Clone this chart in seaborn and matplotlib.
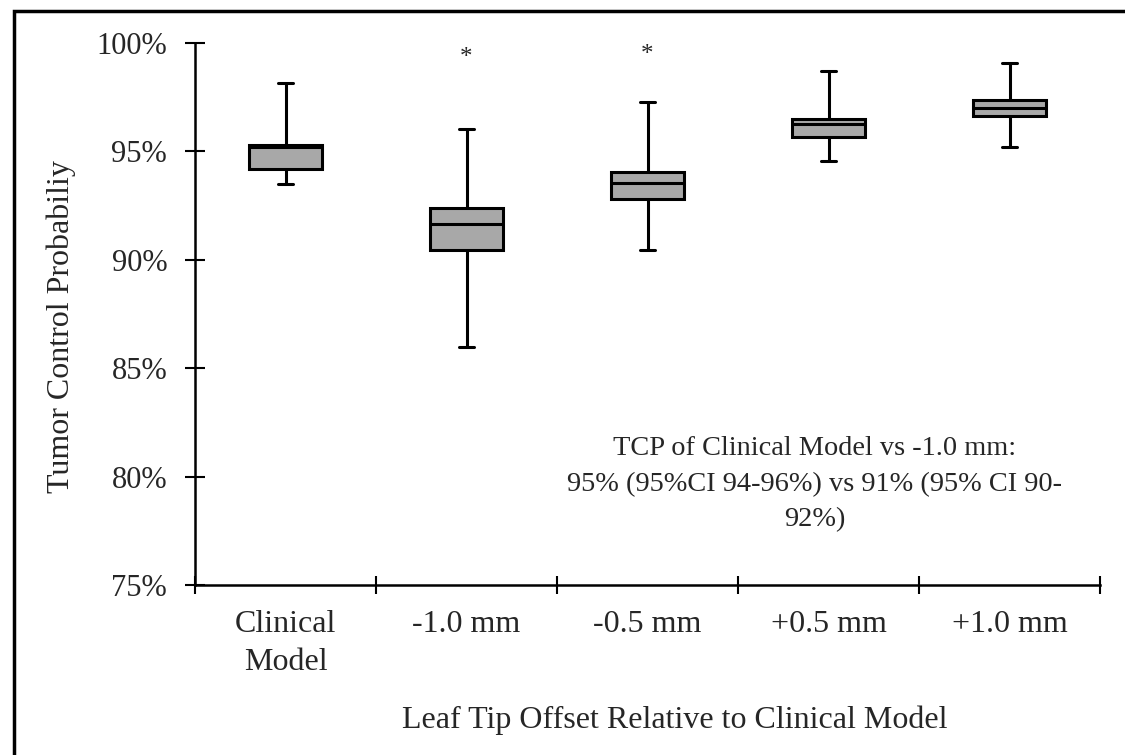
import numpy as np
import pandas as pd
from matplotlib import use
use('agg')
import matplotlib.pyplot as plt
from matplotlib.patches import Rectangle
from matplotlib.ticker import FixedLocator, PercentFormatter
import seaborn as sns

# five-number summaries: min, q1, median, q3, max (%)
groups = ["Clinical\nModel", "-1.0 mm", "-0.5 mm", "+0.5 mm", "+1.0 mm"]
tcp_min = [93.5, 86.0, 90.45, 94.57, 95.2]
tcp_q1 = [94.2, 90.45, 92.8, 95.68, 96.65]
tcp_med = [95.2, 91.65, 93.53, 96.26, 96.99]
tcp_q3 = [95.3, 92.37, 94.04, 96.48, 97.37]
tcp_max = [98.14, 96.03, 97.29, 98.71, 99.09]
star_groups = ["-1.0 mm", "-0.5 mm"]
star_y = [99.3, 99.45]

rows = []
for i, g in enumerate(groups):
	for v in (tcp_min[i], tcp_q1[i], tcp_med[i], tcp_q3[i], tcp_max[i]):
		rows.append({"group": g, "tcp": v})
df = pd.DataFrame(rows)

sns.set_style("white")
plt.rcParams['font.family'] = ['Liberation Serif', 'DejaVu Serif']

fig = plt.figure(figsize=(11.25, 7.55), dpi=100)
ax = fig.add_axes([195/1125, 1-585/755, 905/1125, 542/755])

lw = 2.2
sns.boxplot(data=df, x="group", y="tcp", order=groups, whis=(0, 100), width=0.4,
	color="#a8a8a8", saturation=1, linecolor="black", linewidth=lw,
	showcaps=True, capwidths=0.08, showfliers=False, ax=ax)

for g, y in zip(star_groups, star_y):
	ax.text(groups.index(g), y, "*", ha="center", va="center", fontsize=18)

ax.set_xlim(-0.5, 4.5)
ax.set_ylim(75, 100)
ax.yaxis.set_major_locator(FixedLocator([75, 80, 85, 90, 95, 100]))
ax.yaxis.set_major_formatter(PercentFormatter(decimals=0))

# category boundaries get the tick marks, labels sit between them
ax.xaxis.set_major_locator(FixedLocator(np.arange(-0.5, 5, 1)))
ax.set_xticklabels([])
ax.xaxis.set_minor_locator(FixedLocator(range(len(groups))))
ax.set_xticklabels(groups, minor=True)
for lbl in ax.get_xticklabels(minor=True):
	lbl.set_linespacing(1.4)
ax.tick_params(axis="x", which="major", bottom=True, direction="inout", length=13, width=1.5, color="black")
ax.tick_params(axis="x", which="minor", bottom=True, length=0, pad=18, labelsize=23)
ax.tick_params(axis="y", left=True, direction="inout", length=14.4, width=1.5, color="black", pad=12.8, labelsize=22)

for s in ["top", "right"]:
	ax.spines[s].set_visible(False)
for s in ["left", "bottom"]:
	ax.spines[s].set_color("black")
	ax.spines[s].set_linewidth(1.8)

ax.set_xlabel("Leaf Tip Offset Relative to Clinical Model", fontsize=23)
ax.xaxis.set_label_coords(0.53, -0.222)
ax.set_ylabel("Tumor Control Probabiliy", fontsize=23)
ax.yaxis.set_label_coords(-0.1315, 0.476)

ax.text(2.925, 79.65, "TCP of Clinical Model vs -1.0 mm:\n95% (95%CI 94-96%) vs 91% (95% CI 90-\n92%)",
	ha="center", va="center", fontsize=20.4, linespacing=1.55)

# outer frame around the whole picture
fig.patches.append(Rectangle((14/1125, -0.05), 1.1, 1-11/755+0.05, transform=fig.transFigure,
	fill=False, edgecolor="black", linewidth=2.5))

plt.savefig("out.png", dpi=100)
